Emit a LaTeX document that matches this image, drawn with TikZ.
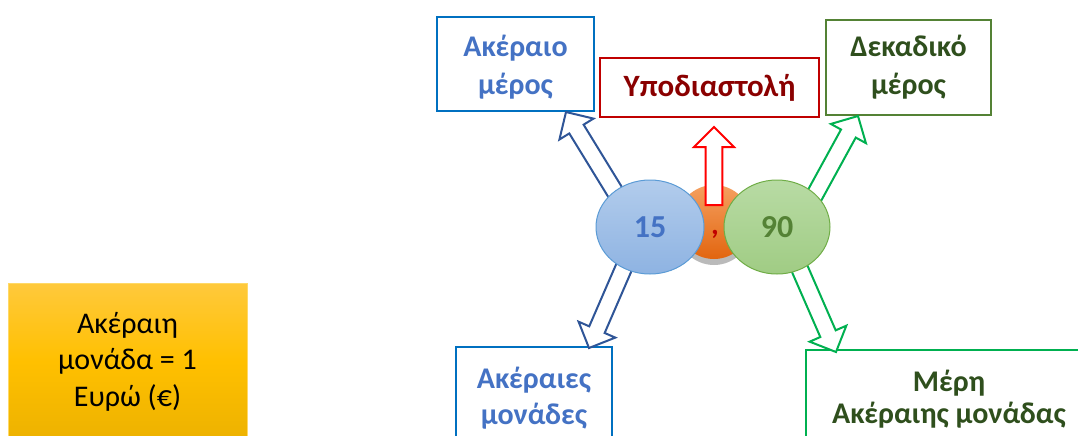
\documentclass[tikz,border=0pt]{standalone}
\usepackage{fontspec}
\setmainfont{Carlito}
\usetikzlibrary{shapes.geometric,calc,shadows}
\definecolor{intblue}{HTML}{0070C0}
\definecolor{inttext}{HTML}{4472C4}
\definecolor{arrblue}{HTML}{2F5597}
\definecolor{commared}{HTML}{C00000}
\definecolor{commatext}{HTML}{8A0000}
\definecolor{decolive}{HTML}{548235}
\definecolor{dectext}{HTML}{2F4F1D}
\definecolor{decgreen}{HTML}{00B050}
\definecolor{goldtop}{HTML}{FFC93C}
\definecolor{goldmid}{HTML}{FFC000}
\definecolor{goldbot}{HTML}{EDB200}
\definecolor{goldedge}{HTML}{FFD966}
\definecolor{dottop}{HTML}{F5A060}
\definecolor{dotbot}{HTML}{E2650F}
\definecolor{bluerim}{HTML}{5B9BD5}
\definecolor{bluetop}{HTML}{B2CCEC}
\definecolor{bluebot}{HTML}{8EB3E2}
\definecolor{greenrim}{HTML}{70AD47}
\definecolor{greentop}{HTML}{B8DBA4}
\definecolor{greenbot}{HTML}{A0CC84}
\tikzset{
  textbox/.style={draw, line width=1pt, fill=white, align=center, inner sep=0pt,
    font=\fontsize{15}{19}\selectfont\bfseries},
  hollow/.style={line width=1pt, fill=white, line join=miter},
}
% hollow block arrow: base, tip, colour
\newcommand\hollowarrow[3]{%
  \coordinate (#1-h) at ($(#2)!10pt!(#1)$);
  \draw[hollow, draw=#3] ($(#1)!4.2pt!90:(#2)$) -- ($(#1-h)!4.2pt!90:(#2)$)
    -- ($(#1-h)!10pt!90:(#2)$) -- (#2) -- ($(#1-h)!10pt!-90:(#2)$)
    -- ($(#1-h)!4.2pt!-90:(#2)$) -- ($(#1)!4.2pt!-90:(#2)$) -- cycle;
}
\begin{document}
\begin{tikzpicture}[x=0.5pt,y=-0.5pt]
\clip (0,0) rectangle (1078,435);
% boxes
\node (intpart) at (515.5,64) [textbox, draw=intblue, text=inttext, minimum width=78.5pt, minimum height=47pt] {\rule{0pt}{3pt}\\[-8pt]Ακέραιο\\μέρος};
\node (comma) at (709.5,87.5) [textbox, draw=commared, text=commatext, minimum width=109.5pt, minimum height=29.5pt, font=\fontsize{15.5}{19}\selectfont\bfseries] {Υποδιαστολή};
\node (decpart) at (908.5,67.5) [textbox, draw=decolive, text=dectext, minimum width=82.5pt, minimum height=47.5pt] {Δεκαδικό\\μέρος};
\node (units) at (534,398) [textbox, draw=intblue, text=inttext, minimum width=78pt, minimum height=51pt, font=\fontsize{15}{18}\selectfont\bfseries] {Ακέραιες\\μονάδες};
\node (parts) at (949,399) [textbox, draw=decgreen, text=dectext, minimum width=143pt, minimum height=49pt, font=\fontsize{15}{16}\selectfont\bfseries] {Μέρη\\Ακέραιης μονάδας};
\node (euro) at (127.5,361.5) [draw=goldedge, line width=0.5pt, top color=goldtop, bottom color=goldbot, middle color=goldmid,
  minimum width=119.5pt, minimum height=78.5pt, align=center, font=\fontsize{15}{18.3}\selectfont] {Ακέραιη\\μονάδα = 1\\Ευρώ (€)};
% arrows behind the circles
\coordinate (ul0) at (620,200);
\coordinate (ul1) at (566,112);
\coordinate (ur0) at (812,200);
\coordinate (ur1) at (858,116);
\coordinate (dl0) at (628,258);
\coordinate (dl1) at (589,348);
\coordinate (dr0) at (795,258);
\coordinate (dr1) at (836,352);
\hollowarrow{ul0}{ul1}{arrblue}
\hollowarrow{ur0}{ur1}{decgreen}
\hollowarrow{dl0}{dl1}{arrblue}
\hollowarrow{dr0}{dr1}{decgreen}
% number circles
\node (dot) at (714,222) [circle, minimum size=37pt, top color=dottop, bottom color=dotbot, draw=none,
  drop shadow={opacity=0.45, shadow xshift=0pt, shadow yshift=-3pt, fill=black!60}] {};
\node (n15) at (650,227) [ellipse, minimum width=54pt, minimum height=47pt, draw=bluerim, line width=0.5pt,
  top color=bluetop, bottom color=bluebot, text=inttext, font=\fontsize{16}{18}\selectfont\bfseries] {15};
\node (n90) at (777,227) [ellipse, minimum width=53pt, minimum height=47pt, draw=greenrim, line width=0.5pt,
  top color=greentop, bottom color=greenbot, text=decolive, font=\fontsize{16}{18}\selectfont\bfseries] {90};
\node (sep) at (715,234) [text=commared, font=\fontsize{15}{16}\selectfont\bfseries] {,};
% arrow to the comma box
\coordinate (up0) at (714,205);
\coordinate (up1) at (714,127);
\hollowarrow{up0}{up1}{red}
\end{tikzpicture}
\end{document}
